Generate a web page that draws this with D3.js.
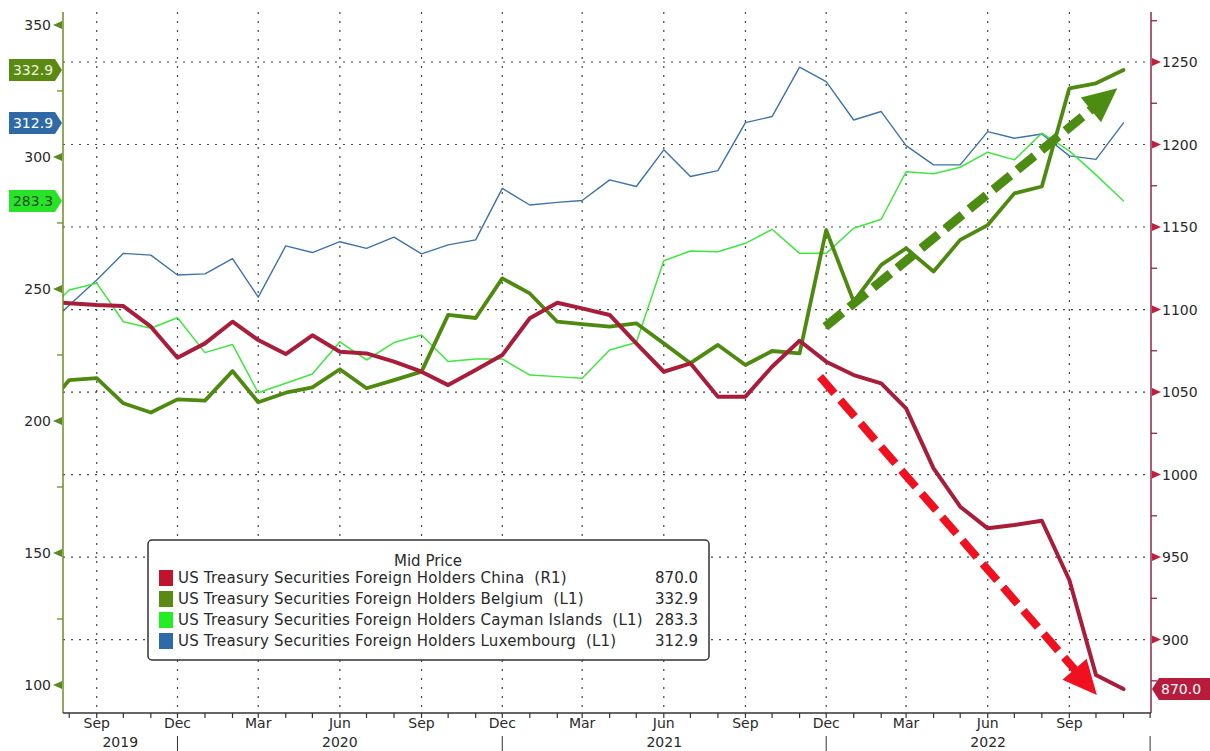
<!DOCTYPE html>
<html>
<head>
<meta charset="utf-8">
<script src="https://cdn.jsdelivr.net/npm/d3@7"></script>
<style>
  body { margin:0; background:#fff; }
  svg text { font-family: "DejaVu Sans", Verdana, sans-serif; }
</style>
</head>
<body>
<div id="chart"></div>
<script>
// US Treasury holdings: China (right axis) vs Belgium / Cayman / Luxembourg (left axis)
const months = [
  '2019-07','2019-08','2019-09','2019-10','2019-11','2019-12',
  '2020-01','2020-02','2020-03','2020-04','2020-05','2020-06','2020-07','2020-08','2020-09','2020-10','2020-11','2020-12',
  '2021-01','2021-02','2021-03','2021-04','2021-05','2021-06','2021-07','2021-08','2021-09','2021-10','2021-11','2021-12',
  '2022-01','2022-02','2022-03','2022-04','2022-05','2022-06','2022-07','2022-08','2022-09','2022-10','2022-11'
];
const china = [1105.0,1103.8,1102.7,1102.1,1089.6,1070.8,
  1079.5,1092.6,1081.5,1073.0,1084.4,1074.4,1073.4,1068.4,1062.3,1054.2,1063.3,1072.4,
  1094.7,1104.1,1100.7,1096.7,1079.5,1062.3,1067.4,1047.2,1047.2,1065.3,1081.1,1068.4,
  1060.3,1055.3,1040.1,1003.7,980.5,967.4,969.4,972.0,936.1,878.5,870.0];
const belgium = [203.0,215.5,216.2,206.7,203.2,208.2,
  207.7,218.9,207.1,210.7,212.7,219.6,212.4,215.5,218.7,240.2,239.0,254.0,
  248.3,237.6,236.7,235.7,237.0,229.4,221.9,228.8,221.2,226.5,225.6,272.3,
  245.2,259.1,265.4,256.6,268.6,274.2,286.2,288.8,326.0,327.9,332.9];
const cayman = [239.5,249.6,252.2,237.6,235.1,239.1,
  225.9,229.0,210.7,214.3,217.8,230.0,223.1,229.7,232.6,222.5,223.5,223.5,
  217.4,216.8,216.2,226.9,229.7,260.7,264.4,264.1,267.3,272.6,263.5,263.5,
  273.0,276.4,294.4,293.6,296.1,301.8,298.9,309.0,302.3,293.2,283.3];
const luxembourg = [234.4,243.8,253.4,263.5,262.8,255.3,
  255.7,261.5,246.9,266.3,263.8,267.9,265.4,269.6,263.3,266.7,268.6,288.1,
  281.8,282.8,283.5,291.3,288.8,302.7,292.6,294.8,313.0,315.3,334.0,328.5,
  314.0,317.2,304.3,297.0,297.0,309.6,307.1,308.7,300.4,299.1,312.9];

const leftTicks = [100,150,200,250,300,350];
const leftMinor = [125,175,225,275,325];
const rightTicks = [900,950,1000,1050,1100,1150,1200,1250];
const rightMinor = [875,925,975,1025,1075,1125,1175,1225,1275];
const monthNames = ['Jan','Feb','Mar','Apr','May','Jun','Jul','Aug','Sep','Oct','Nov','Dec'];
const yearLabels = [['2019','2019-07-25','2019-12-01'],['2020','2019-12-01','2020-12-01'],
                    ['2021','2020-12-01','2021-12-01'],['2022','2021-12-01','2022-12-01']];

// trend arrows (date, value on the axis of the series)
const arrowUp = [['2021-11-30',235.7],['2022-10-25',326.0]];      // left axis
const arrowDown = [['2021-11-24',1059.3],['2022-10-02',866.4]];   // right axis

const series = [
  {name:'US Treasury Securities Foreign Holders China  (R1)', values:china, axis:'R', color:'#a91d3a', width:4},
  {name:'US Treasury Securities Foreign Holders Belgium  (L1)', values:belgium, axis:'L', color:'#4f8a10', width:3.8},
  {name:'US Treasury Securities Foreign Holders Cayman Islands  (L1)', values:cayman, axis:'L', color:'#3ee83e', width:1.5},
  {name:'US Treasury Securities Foreign Holders Luxembourg  (L1)', values:luxembourg, axis:'L', color:'#3f72a8', width:1.4}
];
const legendColors = ['#c0142e','#5a8a14','#22ee22','#2f6aa8'];

const parse = d3.timeParse('%Y-%m');
const parseDay = d3.timeParse('%Y-%m-%d');
const dates = months.map(parse);

const W = 1210, H = 751;
const plot = {left:63, right:1151, top:12, bottom:713};

const svg = d3.select('#chart').append('svg').attr('width',W).attr('height',H);

const x = d3.scaleTime().domain([parseDay('2019-07-25'), parseDay('2022-12-02')]).range([plot.left, plot.right]);
const yL = d3.scaleLinear().domain([89.4, 354.9]).range([plot.bottom, plot.top]);
const yR = d3.scaleLinear().domain([855.5, 1280.3]).range([plot.bottom, plot.top]);

const allMonths = d3.timeMonth.range(parseDay('2019-08-01'), parseDay('2022-12-02'));
const quarterMonths = allMonths.filter(d => d.getMonth() % 3 === 2);

// grid
const grid = svg.append('g');
grid.selectAll('line.h').data(rightTicks).enter().append('line')
  .attr('x1',plot.left).attr('x2',plot.right)
  .attr('y1',d=>yR(d)).attr('y2',d=>yR(d))
  .attr('stroke','#444').attr('stroke-width',1.2).attr('stroke-dasharray','2,6');
grid.selectAll('line.v').data(quarterMonths.filter(d=>x(d) < plot.right-3)).enter().append('line')
  .attr('x1',d=>x(d)).attr('x2',d=>x(d))
  .attr('y1',plot.top).attr('y2',plot.bottom)
  .attr('stroke','#444').attr('stroke-width',1.2).attr('stroke-dasharray','2,7');

// lines
svg.append('clipPath').attr('id','clip').append('rect')
  .attr('x',plot.left).attr('y',plot.top).attr('width',plot.right-plot.left).attr('height',plot.bottom-plot.top);
const lineG = svg.append('g').attr('clip-path','url(#clip)');
[3,2,1,0].forEach(i => {
  const s = series[i];
  const ys = s.axis === 'R' ? yR : yL;
  const line = d3.line().x((d,j)=>x(dates[j])).y(d=>ys(d));
  lineG.append('path').datum(s.values).attr('d',line)
    .attr('fill','none').attr('stroke',s.color).attr('stroke-width',s.width)
    .attr('stroke-linejoin','round').attr('stroke-linecap','round');
});

// trend arrows
function drawArrow(pts, ys, color, w){
  const x0 = x(parseDay(pts[0][0])), y0 = ys(pts[0][1]);
  const x1 = x(parseDay(pts[1][0])), y1 = ys(pts[1][1]);
  const ang = Math.atan2(y1-y0, x1-x0);
  const headLen = 34, headW = 16;
  const bx = x1 - headLen*Math.cos(ang), by = y1 - headLen*Math.sin(ang);
  svg.append('line').attr('x1',x0).attr('y1',y0).attr('x2',bx+4*Math.cos(ang)).attr('y2',by+4*Math.sin(ang))
    .attr('stroke',color).attr('stroke-width',w).attr('stroke-dasharray','22,9');
  const px = -Math.sin(ang), py = Math.cos(ang);
  svg.append('path')
    .attr('d',`M${x1},${y1}L${bx+px*headW},${by+py*headW}L${bx-px*headW},${by-py*headW}Z`)
    .attr('fill',color);
}
drawArrow(arrowUp, yL, '#4d8c12', 9);
drawArrow(arrowDown, yR, '#f01020', 8);

// left axis
const axL = svg.append('g');
axL.append('line').attr('x1',plot.left).attr('x2',plot.left).attr('y1',plot.top).attr('y2',plot.bottom)
  .attr('stroke','#6b8e23').attr('stroke-width',1.5);
axL.selectAll('path.tri').data(leftTicks).enter().append('path')
  .attr('d',d=>`M53,${yL(d)}L62,${yL(d)-4}L62,${yL(d)+4}Z`).attr('fill','#5d8a1e');
axL.selectAll('line.minor').data(leftMinor).enter().append('line')
  .attr('x1',57).attr('x2',plot.left).attr('y1',d=>yL(d)).attr('y2',d=>yL(d))
  .attr('stroke','#6b8e23').attr('stroke-width',1.3);
axL.selectAll('text').data(leftTicks).enter().append('text')
  .attr('x',51).attr('y',d=>yL(d)+5).attr('text-anchor','end')
  .attr('font-size',14).attr('fill','#2a2a2a').text(d=>d);

// right axis
const axR = svg.append('g');
axR.append('line').attr('x1',plot.right).attr('x2',plot.right).attr('y1',plot.top).attr('y2',plot.bottom)
  .attr('stroke','#8b2a48').attr('stroke-width',1.5);
axR.selectAll('path.tri').data(rightTicks).enter().append('path')
  .attr('d',d=>`M${plot.right+1},${yR(d)-4}L${plot.right+1},${yR(d)+4}L${plot.right+10},${yR(d)}Z`).attr('fill','#c0203e');
axR.selectAll('line.minor').data(rightMinor).enter().append('line')
  .attr('x1',plot.right).attr('x2',plot.right+6).attr('y1',d=>yR(d)).attr('y2',d=>yR(d))
  .attr('stroke','#8b2a48').attr('stroke-width',1.3);
axR.selectAll('text').data(rightTicks).enter().append('text')
  .attr('x',plot.right+11).attr('y',d=>yR(d)+5)
  .attr('font-size',14).attr('fill','#2a2a2a').text(d=>d);

// x axis
const axX = svg.append('g');
axX.append('line').attr('x1',plot.left).attr('x2',plot.right).attr('y1',plot.bottom).attr('y2',plot.bottom)
  .attr('stroke','#333').attr('stroke-width',1.5);
axX.selectAll('line.t').data(allMonths).enter().append('line')
  .attr('x1',d=>x(d)).attr('x2',d=>x(d)).attr('y1',plot.bottom).attr('y2',plot.bottom+5)
  .attr('stroke','#333').attr('stroke-width',1.2);
axX.selectAll('text.m').data(quarterMonths.filter(d=>x(d) < plot.right-3)).enter().append('text')
  .attr('x',d=>x(d)).attr('y',plot.bottom+15).attr('text-anchor','middle')
  .attr('font-size',14).attr('fill','#2a2a2a').text(d=>monthNames[d.getMonth()]);
axX.selectAll('text.y').data(yearLabels).enter().append('text')
  .attr('x',d=>(x(parseDay(d[1]))+x(parseDay(d[2])))/2).attr('y',plot.bottom+34).attr('text-anchor','middle')
  .attr('font-size',14).attr('fill','#2a2a2a').text(d=>d[0]);
axX.selectAll('line.sep').data(yearLabels.map(d=>d[2])).enter().append('line')
  .attr('x1',d=>x(parseDay(d))).attr('x2',d=>x(parseDay(d)))
  .attr('y1',plot.bottom+23).attr('y2',H)
  .attr('stroke','#333').attr('stroke-width',1);

// last-value tags
const fmt = d3.format('.1f');
const leftTags = [
  {v:belgium[belgium.length-1], fill:'#5a8a14', text:'#eef5dc'},
  {v:luxembourg[luxembourg.length-1], fill:'#2f6aa6', text:'#ffffff'},
  {v:cayman[cayman.length-1], fill:'#28e428', text:'#1b4d1b'}
];
leftTags.forEach(t => {
  const yy = yL(t.v);
  svg.append('path').attr('d',`M9,${yy-11}H55L62,${yy}L55,${yy+11}H9Z`).attr('fill',t.fill);
  svg.append('text').attr('x',33).attr('y',yy+5).attr('text-anchor','middle')
    .attr('font-size',14).attr('fill',t.text).text(fmt(t.v));
});
{
  const v = china[china.length-1], yy = yR(v);
  svg.append('path').attr('d',`M${plot.right+1},${yy}L${plot.right+8},${yy-11}H${W}V${yy+11}H${plot.right+8}Z`).attr('fill','#b81c3c');
  svg.append('text').attr('x',plot.right+10).attr('y',yy+5).attr('font-size',14).attr('fill','#fff').text(fmt(v));
}

// legend
const lg = svg.append('g');
lg.append('rect').attr('x',148).attr('y',540).attr('width',561).attr('height',120).attr('rx',4)
  .attr('fill','#fff').attr('stroke','#333').attr('stroke-width',1.5);
lg.append('text').attr('x',428).attr('y',566).attr('text-anchor','middle').attr('font-size',15).attr('fill','#2a2a2a').text('Mid Price');
series.forEach((s,i) => {
  const yy = 578 + i*21;
  lg.append('rect').attr('x',159).attr('y',yy-8).attr('width',14).attr('height',16).attr('fill',legendColors[i]);
  lg.append('text').attr('x',178).attr('y',yy+5).attr('font-size',15).attr('fill','#2a2a2a')
    .attr('letter-spacing',0.2).style('white-space','pre').text(s.name);
  lg.append('text').attr('x',698).attr('y',yy+5).attr('text-anchor','end').attr('font-size',15).attr('fill','#2a2a2a')
    .text(fmt(s.values[s.values.length-1]));
});
</script>
</body>
</html>
